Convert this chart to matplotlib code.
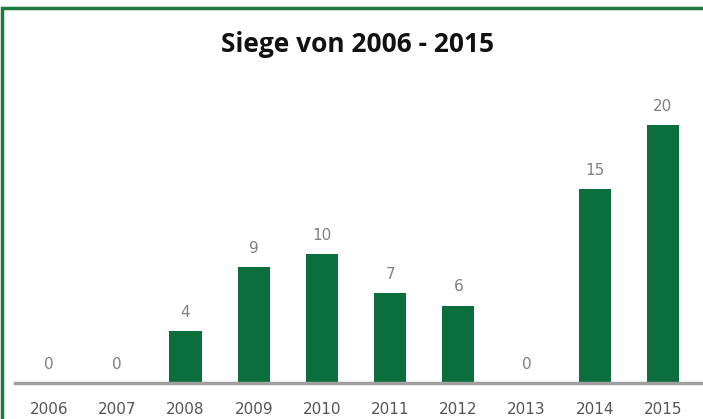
import matplotlib
matplotlib.use("Agg")
import matplotlib.pyplot as plt
from matplotlib.patches import Rectangle
from matplotlib.lines import Line2D

years = ["2006", "2007", "2008", "2009", "2010", "2011", "2012", "2013", "2014", "2015"]
wins = [0, 0, 4, 9, 10, 7, 6, 0, 15, 20]
title = "Siege von 2006 - 2015"

W, H = 703, 419
fig = plt.figure(figsize=(W / 100, H / 100), dpi=100)
fig.patch.set_facecolor("white")

# green frame (cut off at right/bottom like the reference)
fig.patches.append(Rectangle((2 / W, -0.05), 1.2, 1 - 8 / H + 0.05,
                             transform=fig.transFigure, fill=False,
                             edgecolor="#1E7B3E", linewidth=2.5))

left = 15 / W
bottom = (H - 383) / H
right_px = 697
top_px = 100
ax = fig.add_axes([left, bottom, (right_px - 15) / W, (383 - top_px) / H])
x = list(range(len(years)))
ax.bar(x, wins, width=0.47, color="#0B6E3D")
ax.set_xlim(-0.5, len(years) - 0.5)
ax.set_ylim(0, (383 - top_px) / 12.9)
for s in ["top", "right", "left", "bottom"]:
    ax.spines[s].set_visible(False)
fig.lines.append(Line2D([15 / W, 1.0], [bottom, bottom], transform=fig.transFigure,
                        color="#A0A0A0", linewidth=2.5))
ax.set_yticks([])
ax.set_xticks(x)
ax.set_xticklabels(years, fontsize=11, color="#555555")
ax.tick_params(axis="x", length=0, pad=14)
ax.patch.set_visible(False)
for xi, v in zip(x, wins):
    ax.annotate(str(v), (xi, v), xytext=(0, 8), textcoords="offset points",
                ha="center", va="bottom", fontsize=11, color="#808080")

fig.text(0.509, 1 - 45 / H, title, ha="center", va="center",
         fontsize=19, fontweight="bold", family="Open Sans", color="#111111")

fig.savefig("out.png", dpi=100)
